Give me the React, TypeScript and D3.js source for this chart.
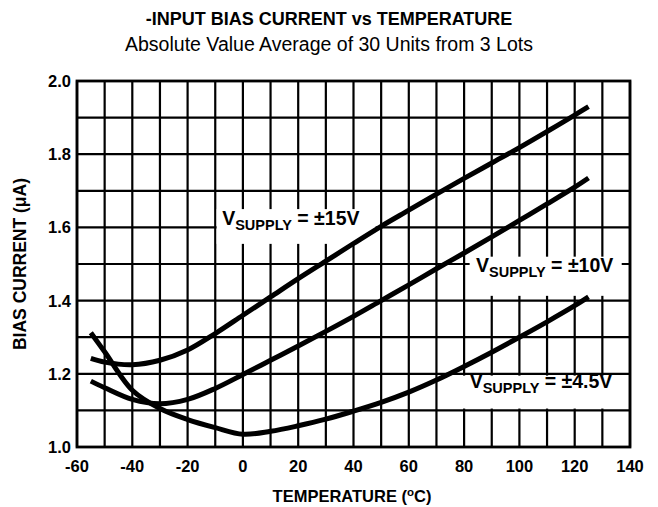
import React from "react";
import * as d3 from "d3";

const temps = [-55, -50, -40, -30, -20, -10, 0, 10, 20, 30, 40, 50, 60, 70, 80, 90, 100, 110, 120, 125];
const supply15 = [1.242, 1.232, 1.225, 1.237, 1.265, 1.31, 1.36, 1.41, 1.46, 1.508, 1.556, 1.603, 1.647, 1.691, 1.734, 1.776, 1.818, 1.862, 1.907, 1.93];
const supply10 = [1.18, 1.162, 1.13, 1.118, 1.13, 1.16, 1.198, 1.237, 1.276, 1.316, 1.357, 1.4, 1.443, 1.487, 1.53, 1.574, 1.619, 1.664, 1.71, 1.735];
const supply45 = [1.312, 1.26, 1.155, 1.105, 1.075, 1.053, 1.035, 1.043, 1.058, 1.076, 1.098, 1.122, 1.15, 1.183, 1.22, 1.259, 1.3, 1.342, 1.386, 1.41];

const xTicks = [-60, -40, -20, 0, 20, 40, 60, 80, 100, 120, 140];
const yTicks = [1.0, 1.2, 1.4, 1.6, 1.8, 2.0];
const xGrid = d3.range(-60, 141, 10);
const yGrid = d3.range(0, 11).map((i) => 1 + i * 0.1);

const labels = [
  { volt: "±15V", t: -7.5, v: 1.607, box: [-9.5, 1.65, 48, 1.555] },
  { volt: "±10V", t: 84.3, v: 1.478, box: [82.0, 1.52, 137, 1.413] },
  { volt: "±4.5V", t: 82.0, v: 1.161, box: [78.3, 1.195, 138, 1.105] },
];

const FONT = "'Liberation Sans', Arial, Helvetica, sans-serif";

export default function App() {
  const W = 658, H = 507;
  const x = d3.scaleLinear().domain([-60, 140]).range([77, 630]);
  const y = d3.scaleLinear().domain([1.0, 2.0]).range([447, 81]);
  const line = d3
    .line<number>()
    .x((_, i) => x(temps[i]))
    .y((d) => y(d))
    .curve(d3.curveCatmullRom.alpha(0.5));
  const series = [supply15, supply10, supply45];
  return (
    <svg width={W} height={H} style={{ position: "absolute", left: 0, top: 0, background: "#fff" }} fontFamily={FONT}>
      <rect x={0} y={0} width={W} height={H} fill="#fff" />
      <text x={329} y={25} textAnchor="middle" fontWeight="bold" fontSize={18}>
        -INPUT BIAS CURRENT vs TEMPERATURE
      </text>
      <text x={329} y={51} textAnchor="middle" fontSize={19.5}>
        Absolute Value Average of 30 Units from 3 Lots
      </text>
      {xGrid.map((t) => (
        <line key={"vx" + t} x1={x(t)} x2={x(t)} y1={y(1)} y2={y(2)} stroke="#000" strokeWidth={2.2} />
      ))}
      {yGrid.map((v, i) => (
        <line key={"hy" + i} x1={x(-60)} x2={x(140)} y1={y(v)} y2={y(v)} stroke="#000" strokeWidth={2.2} />
      ))}
      <rect x={x(-60)} y={y(2)} width={x(140) - x(-60)} height={y(1) - y(2)} fill="none" stroke="#000" strokeWidth={2.8} />
      {labels.map((l, i) => (
        <rect
          key={"b" + i}
          x={x(l.box[0])}
          y={y(l.box[1])}
          width={x(l.box[2]) - x(l.box[0])}
          height={y(l.box[3]) - y(l.box[1])}
          fill="#fff"
        />
      ))}
      {series.map((s, i) => (
        <path key={"s" + i} d={line(s) || ""} fill="none" stroke="#000" strokeWidth={5} strokeLinejoin="round" />
      ))}
      {labels.map((l, i) => (
        <text key={"t" + i} x={x(l.t)} y={y(l.v)} fontWeight="bold" fontSize={19.5}>
          V
          <tspan fontSize={14.5} dy={5}>SUPPLY</tspan>
          <tspan dy={-5}> = {l.volt}</tspan>
        </text>
      ))}
      {yTicks.map((v) => (
        <text key={"yt" + v} x={71} y={y(v)} dy="0.36em" textAnchor="end" fontWeight="bold" fontSize={16.5}>
          {v.toFixed(1)}
        </text>
      ))}
      {xTicks.map((t) => (
        <text key={"xt" + t} x={x(t)} y={472} textAnchor="middle" fontWeight="bold" fontSize={16.5}>
          {t}
        </text>
      ))}
      <text x={352} y={502} textAnchor="middle" fontWeight="bold" fontSize={16.5}>
        TEMPERATURE (
        <tspan fontSize={11.5} dy={-6}>o</tspan>
        <tspan dy={6}>C)</tspan>
      </text>
      <text transform={`translate(26, ${y(1.5)}) rotate(-90)`} textAnchor="middle" fontWeight="bold" fontSize={17.5}>
        BIAS CURRENT (μA)
      </text>
    </svg>
  );
}
